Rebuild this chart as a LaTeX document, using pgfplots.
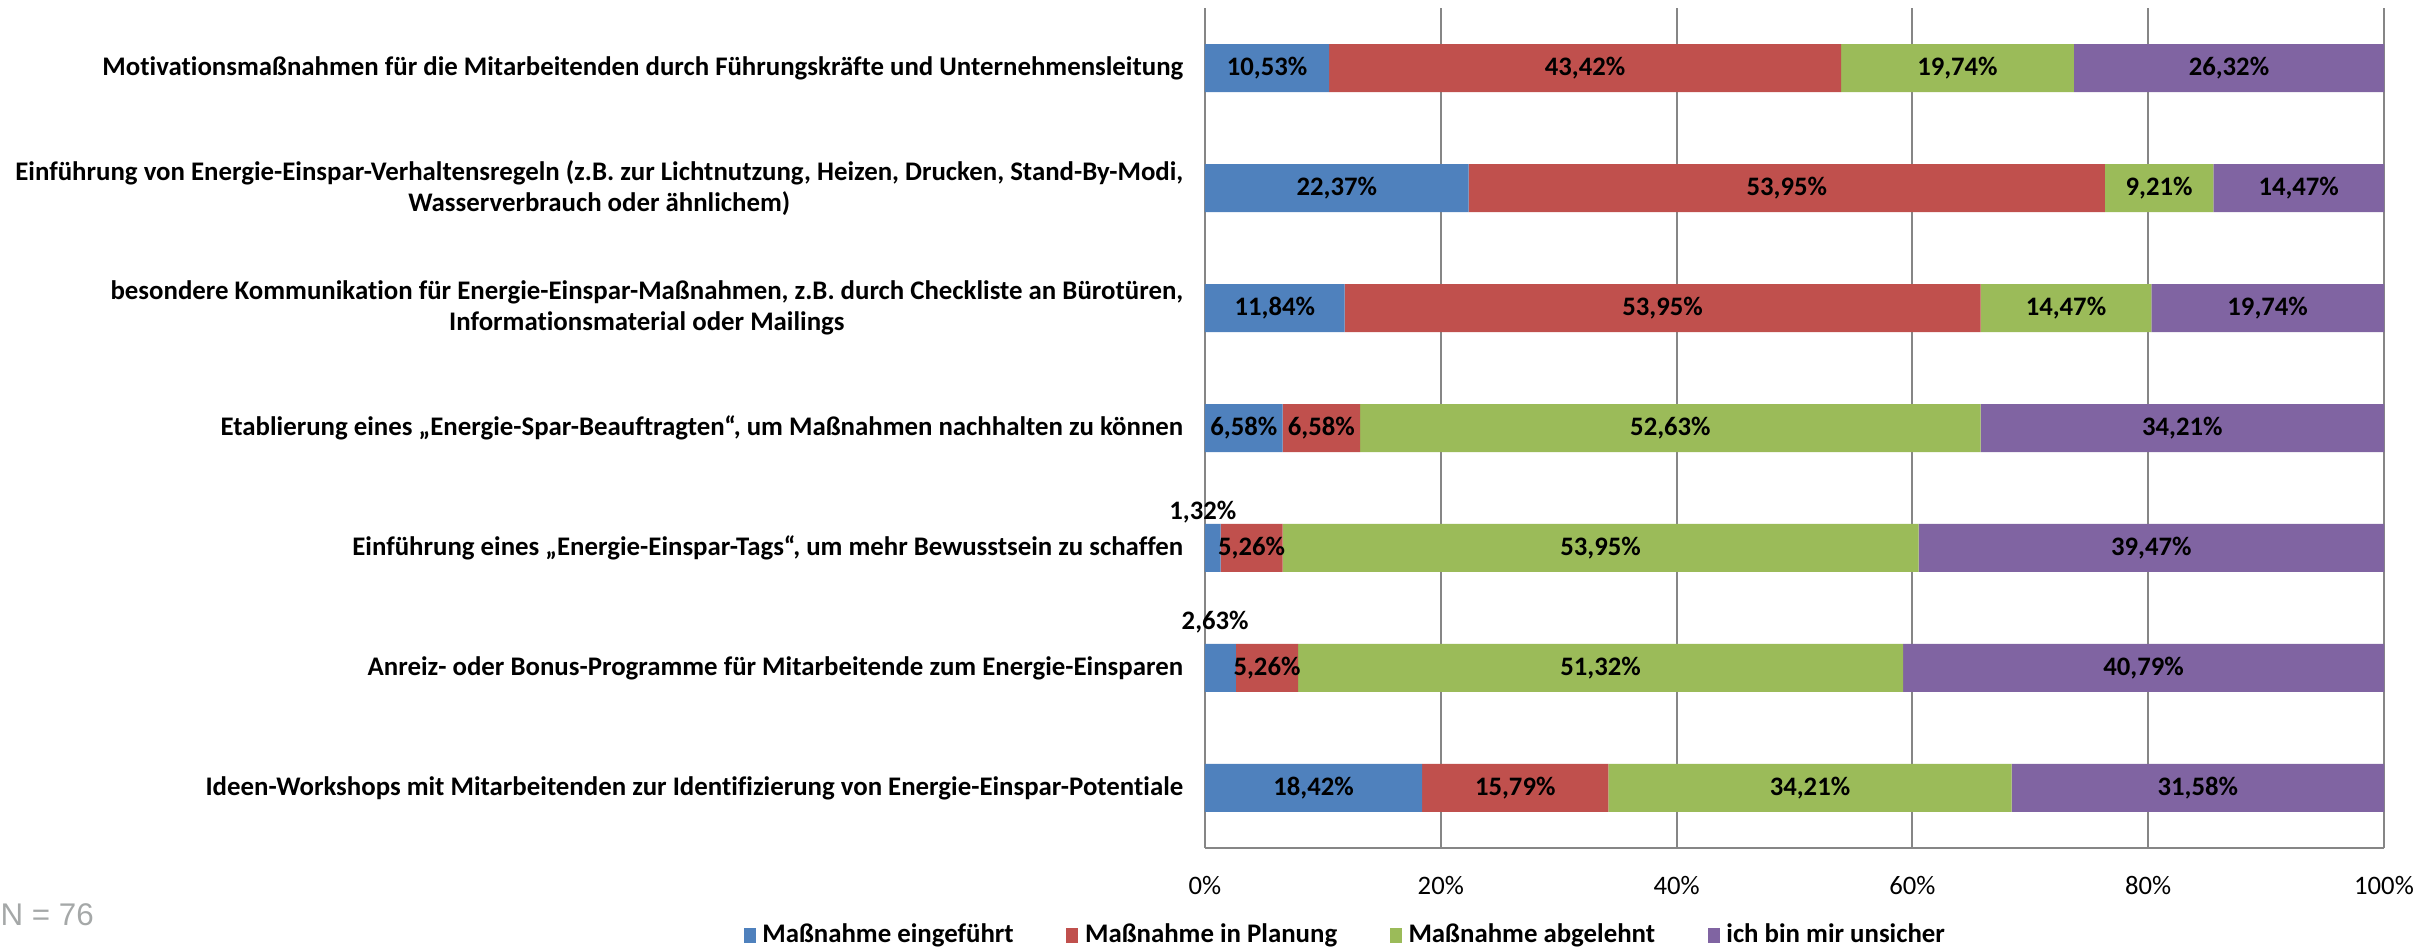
\documentclass[border=0pt]{standalone}
\usepackage{pgfplots}
\pgfplotsset{compat=1.18}
\usepackage{pgfplotstable}
\usepackage{fontspec}
\setmainfont{Carlito}[Ligatures={NoCommon,TeX}]
\newfontfamily\arialf{Liberation Sans}
\definecolor{cA}{HTML}{4F81BD}
\definecolor{cB}{HTML}{C0504D}
\definecolor{cC}{HTML}{9BBB59}
\definecolor{cD}{HTML}{8064A2}
\definecolor{gridc}{HTML}{868686}
\definecolor{ntext}{HTML}{A5A8A8}

\pgfplotstableread{
y a b c d dxa dya
6 10.53 43.42 19.74 26.32 0 0
5 22.37 53.95 9.21 14.47 0 0
4 11.84 53.95 14.47 19.74 0 0
3 6.58 6.58 52.63 34.21 0 0
2 1.32 5.26 53.95 39.47 -3 10.8
1 2.63 5.26 51.32 40.79 -1.6 13.8
0 18.42 15.79 34.21 31.58 0 0
}\data
\pgfplotstablecreatecol[create col/expr={\thisrow{a}/2}]{ca}\data
\pgfplotstablecreatecol[create col/expr={\thisrow{a}+\thisrow{b}/2}]{cb}\data
\pgfplotstablecreatecol[create col/expr={\thisrow{a}+\thisrow{b}+\thisrow{c}/2}]{cc}\data
\pgfplotstablecreatecol[create col/expr={\thisrow{a}+\thisrow{b}+\thisrow{c}+\thisrow{d}/2}]{cd}\data

\pgfplotsset{
  /pgf/number format/assume math mode=true,
  common/.style={
    at={(0,0)}, anchor=south west, scale only axis,
    width=353.7pt, height=252pt,
    xmin=0, xmax=100, ymin=-0.5, ymax=6.5,
  },
  lbl/.style={
    only marks, mark=none,
    point meta=\thisrow{#1},
    nodes near coords={\pgfmathprintnumber[fixed,fixed zerofill,precision=2,use comma]{\pgfplotspointmeta}\%},
    nodes near coords style={anchor=center, font=\bfseries\fontsize{8}{9}\selectfont, text=black},
  },
}

\begin{document}
\begin{tikzpicture}
\path[use as bounding box] (-361.5pt,-30.9pt) rectangle (365.7pt,254.4pt);
\begin{axis}[common,
  xbar stacked, bar width=14.4pt,
  ytick={0,...,6},
  yticklabels={
    {Ideen-Workshops mit Mitarbeitenden zur Identifizierung von Energie-Einspar-Potentiale},
    {Anreiz- oder Bonus-Programme für Mitarbeitende zum Energie-Einsparen},
    {Einführung eines „Energie-Einspar-Tags“, um mehr Bewusstsein zu schaffen},
    {Etablierung eines „Energie-Spar-Beauftragten“, um Maßnahmen nachhalten zu können},
    {besondere Kommunikation für Energie-Einspar-Maßnahmen, z.B. durch Checkliste an Bürotüren,\\Informationsmaterial oder Mailings},
    {Einführung von Energie-Einspar-Verhaltensregeln (z.B. zur Lichtnutzung, Heizen, Drucken, Stand-By-Modi,\\Wasserverbrauch oder ähnlichem)},
    {Motivationsmaßnahmen für die Mitarbeitenden durch Führungskräfte und Unternehmensleitung}
  },
  yticklabel style={align=center, font=\bfseries\fontsize{8.05}{9.4}\selectfont, xshift=-3pt},
  xtick={0,20,...,100},
  xticklabel={\pgfmathprintnumber{\tick}\%},
  xticklabel style={font=\fontsize{8}{9}\selectfont, yshift=-5pt},
  xmajorgrids, grid style={gridc, line width=0.6pt},
  axis lines*=left,
  axis line style={gridc, line width=0.8pt, -},
  major tick length=0pt,
  legend columns=4,
  legend style={at={(0.121,-0.104)}, anchor=center, draw=none, fill=none,
    font=\bfseries\fontsize{8.05}{9}\selectfont,
    /tikz/every even column/.append style={column sep=13.8pt}},
  legend image code/.code={\fill[#1] (0pt,-2.3pt) rectangle (3.6pt,2.3pt);},
]
\addplot[fill=cA, draw=none] table[x=a,y=y]{\data};
\addplot[fill=cB, draw=none] table[x=b,y=y]{\data};
\addplot[fill=cC, draw=none] table[x=c,y=y]{\data};
\addplot[fill=cD, draw=none] table[x=d,y=y]{\data};
\legend{Maßnahme eingeführt, Maßnahme in Planung, Maßnahme abgelehnt, ich bin mir unsicher}
\end{axis}
\begin{axis}[common, hide axis]
\addplot[lbl=a,
  visualization depends on={\thisrow{dxa} \as \dx},
  visualization depends on={\thisrow{dya} \as \dy},
  nodes near coords style={xshift=\dx pt, yshift=\dy pt}] table[x=ca,y=y]{\data};
\addplot[lbl=b] table[x=cb,y=y]{\data};
\addplot[lbl=c] table[x=cc,y=y]{\data};
\addplot[lbl=d] table[x=cd,y=y]{\data};
\end{axis}
\node[anchor=west, inner sep=0pt, text=ntext, font=\arialf\fontsize{9.4}{11}\selectfont] at (-361.5pt,-20.1pt) {N = 76};
\end{tikzpicture}
\end{document}
